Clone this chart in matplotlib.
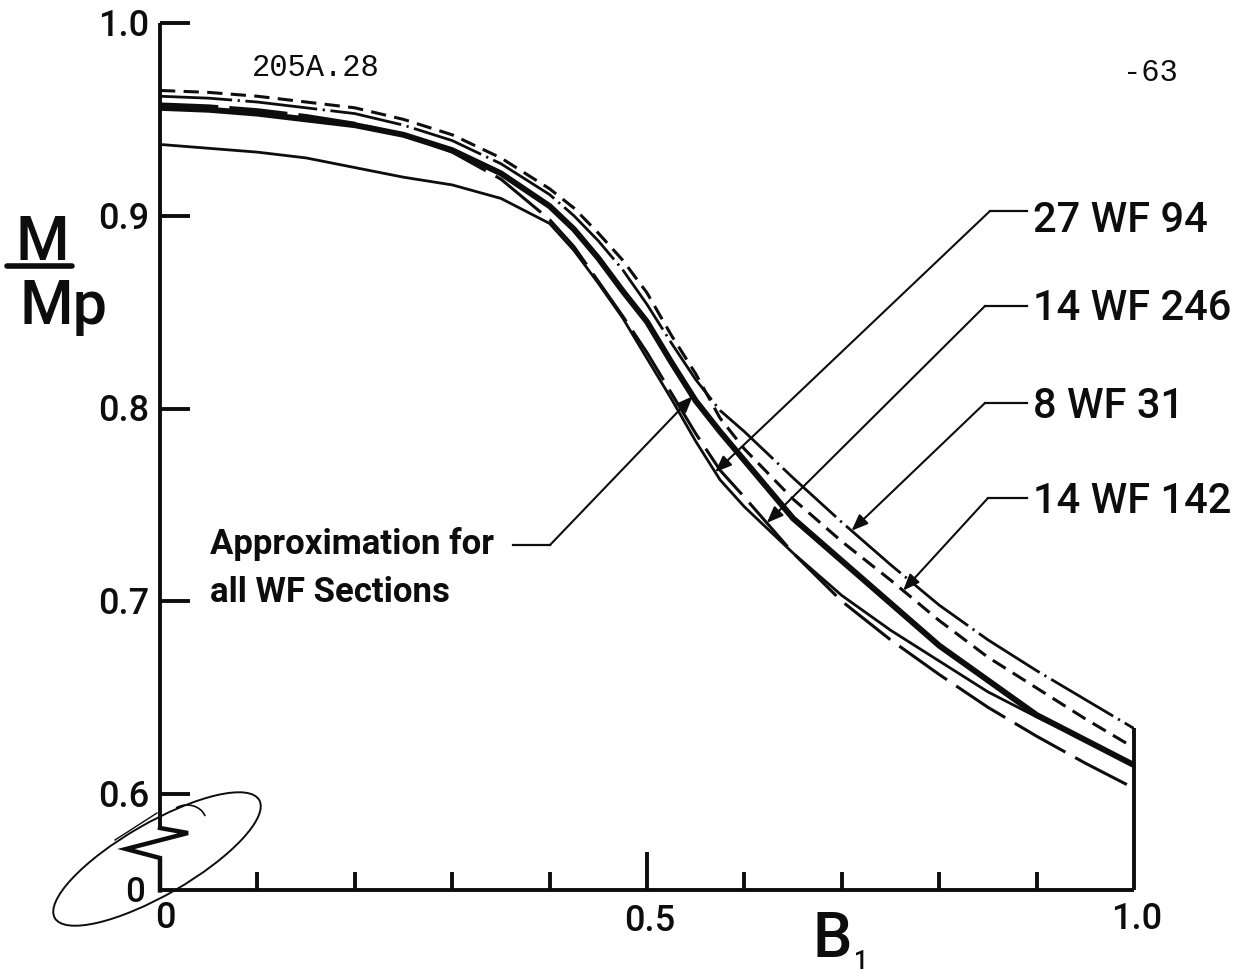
import numpy as np
import matplotlib
matplotlib.use("Agg")
import matplotlib.pyplot as plt
from matplotlib.patches import Ellipse, Arc
from matplotlib.lines import Line2D

plt.rcParams['lines.scale_dashes'] = False

# ---------------- data ----------------
b1 = [0.0, 0.05, 0.1, 0.15, 0.2, 0.25, 0.3, 0.35, 0.4, 0.425, 0.45, 0.475,
      0.5, 0.525, 0.55, 0.575, 0.6, 0.65, 0.7, 0.75, 0.8, 0.85, 0.9, 0.95, 1.0]

# approximation for all WF sections (heavy line)
m_approx = [0.956, 0.955, 0.953, 0.950, 0.947, 0.942, 0.934, 0.922, 0.905, 0.893,
            0.878, 0.861, 0.845, 0.824, 0.804, 0.788, 0.773, 0.743, 0.721, 0.699,
            0.677, 0.659, 0.641, 0.628, 0.615]
m_27wf94 = [0.937, 0.935, 0.933, 0.930, 0.925, 0.920, 0.916, 0.909, 0.896, 0.882,
            0.865, 0.847, 0.826, 0.805, 0.783, 0.763, 0.749, 0.725, 0.703, 0.685,
            0.669, 0.653, 0.640, 0.628, 0.615]
m_14wf246 = [0.958, 0.957, 0.955, 0.952, 0.948, 0.942, 0.933, 0.919, 0.898, 0.884,
             0.866, 0.848, 0.829, 0.808, 0.787, 0.768, 0.754, 0.725, 0.700, 0.680,
             0.662, 0.645, 0.630, 0.616, 0.603]
m_8wf31 = [0.962, 0.961, 0.959, 0.956, 0.953, 0.947, 0.939, 0.927, 0.911, 0.900,
           0.887, 0.872, 0.854, 0.834, 0.815, 0.799, 0.788, 0.764, 0.741, 0.719,
           0.698, 0.680, 0.664, 0.649, 0.634]
m_14wf142 = [0.965, 0.964, 0.962, 0.959, 0.956, 0.950, 0.942, 0.930, 0.914, 0.904,
             0.891, 0.877, 0.860, 0.838, 0.818, 0.795, 0.779, 0.753, 0.731, 0.711,
             0.690, 0.671, 0.655, 0.639, 0.624]

y_ticks = [0.6, 0.7, 0.8, 0.9, 1.0]
y_tick_labels = ["0.6", "0.7", "0.8", "0.9", "1.0"]
x_ticks = [0.1, 0.2, 0.3, 0.4, 0.5, 0.6, 0.7, 0.8, 0.9]
x_tick_labels = ["0", "0.5", "1.0"]
x_label_vals = [0.0, 0.5, 1.0]

section_names = ["27 WF 94", "14 WF 246", "8 WF 31", "14 WF 142"]
section_curves = [m_27wf94, m_14wf246, m_8wf31, m_14wf142]
approx_text = ["Approximation for", "all WF Sections"]

# ---------------- layout (pixels) ----------------
W, H = 1244, 973
X0, X1 = 160, 1134          # B1 = 0 and 1.0
Y_TOP, Y_BOT = 23, 890.4    # M/Mp = 1.0 and axis base
YMIN, YMAX = 0.55, 1.0
ink = "#0d0d0d"
LBL = "Roboto"

fig = plt.figure(figsize=(W / 100, H / 100), dpi=100)
fig.patch.set_facecolor("white")
ax = fig.add_axes([X0 / W, 1 - Y_BOT / H, (X1 - X0) / W, (Y_BOT - Y_TOP) / H])
ax.set_xlim(0, 1)
ax.set_ylim(YMIN, YMAX)
ax.axis("off")

ppu = (Y_BOT - Y_TOP) / (YMAX - YMIN)


def to_data(px, py):
    return (px - X0) / (X1 - X0), YMAX - (py - Y_TOP) / ppu


def cap_text(px, py_center, s, size, ha="center", family=LBL, weight="medium", capr=0.711):
    """Place text so that its capital letters are centred on py_center."""
    cap_px = capr * size * 100 / 72
    fig.text(px / W, 1 - (py_center + cap_px / 2) / H, s, ha=ha, va="baseline",
             fontsize=size, family=family, weight=weight, color=ink)


# ---------------- curves ----------------
ax.plot(b1, m_27wf94, color=ink, lw=2.0, zorder=3)
ax.plot(b1, m_14wf246, color=ink, lw=2.2, dashes=(42, 8), zorder=3)
ax.plot(b1, m_8wf31, color=ink, lw=2.0, dashes=(52, 4, 1.6, 4), zorder=3)
ax.plot(b1, m_14wf142, color=ink, lw=2.2, dashes=(11, 6), zorder=3)
ax.plot(b1, m_approx, color=ink, lw=4.3, solid_joinstyle="round", zorder=4)

# ---------------- frame ----------------
akw = dict(color=ink, lw=2.8, clip_on=False, solid_capstyle="butt", zorder=5)
brk = [to_data(*p) for p in [(160, 828), (188, 833), (126, 849), (160, 858), (160, Y_BOT)]]
ax.plot([0, 0], [YMAX, brk[0][1]], **akw)
ax.plot([p[0] for p in brk], [p[1] for p in brk], color=ink, lw=3.2, clip_on=False,
        solid_joinstyle="miter", zorder=5)
ax.plot([0, 1], [YMIN, YMIN], **akw)
ax.plot([1, 1], [YMIN, m_8wf31[-1]], **akw)

for yv in y_ticks:
    ax.plot([0, 30 / (X1 - X0)], [yv, yv], **akw)
for xv in x_ticks:
    h = (38 if abs(xv - 0.5) < 1e-9 else 18) / ppu
    ax.plot([xv, xv], [YMIN, YMIN + h], **akw)

# tick labels
for yv, s in zip(y_ticks, y_tick_labels):
    cap_text(149, Y_TOP + (YMAX - yv) * ppu, s, 26, ha="right")
cap_text(135, 890, "0", 25)
for xv, s, py in zip(x_label_vals, x_tick_labels, [915, 918, 916]):
    px = X0 + xv * (X1 - X0) + (5 if xv == 0 else 3)
    cap_text(px, py, s, 26)

# axis titles
cap_text(832, 935, "B", 45)
cap_text(861, 960, "1", 18)
cap_text(42, 238, "M", 44)
fig.add_artist(Line2D([7 / W, 72 / W], [1 - 266 / H, 1 - 266 / H], color=ink, lw=4.0,
                      solid_capstyle="round"))
cap_text(20, 302, "Mp", 44, ha="left")

# typed page marks
cap_text(316, 66, "205A.28", 22, family="Liberation Mono", weight="normal", capr=0.66)
cap_text(1150, 71, "-63", 22, family="Liberation Mono", weight="normal", capr=0.66)

# ---------------- leaders ----------------
arrow = dict(arrowstyle="-|>,head_length=0.55,head_width=0.22", color=ink, lw=1.5,
             shrinkA=0, shrinkB=0, mutation_scale=18)
elbows = [(990, 211), (985, 306), (985, 403), (988, 498)]
tips_b = [0.570, 0.623, 0.710, 0.763]
text_y = [217, 305, 403, 498]
for name, curve, (ex, ey), tb, ty in zip(section_names, section_curves, elbows, tips_b, text_y):
    e = to_data(ex, ey)
    tip = (tb, float(np.interp(tb, b1, curve)))
    ax.annotate("", xy=tip, xytext=e, arrowprops=arrow, annotation_clip=False, zorder=6)
    ax.plot([e[0], to_data(1027, ey)[0]], [e[1], e[1]], color=ink, lw=1.6,
            clip_on=False, zorder=6)
    cap_text(1033, ty, name, 30, ha="left")

# approximation leader
e = to_data(550, 545)
tb = 0.547
tip = (tb, float(np.interp(tb, b1, m_approx)))
ax.annotate("", xy=tip, xytext=e, arrowprops=arrow, annotation_clip=False, zorder=6)
ax.plot([to_data(513, 545)[0], e[0]], [e[1], e[1]], color=ink, lw=1.6, clip_on=False, zorder=6)
cap_text(210, 542, approx_text[0], 25, ha="left", weight="bold")
cap_text(210, 590, approx_text[1], 25, ha="left", weight="bold")

# ---------------- break mark ring ----------------
tr = fig.dpi_scale_trans
fig.add_artist(Ellipse((157 / 100, (H - 859) / 100), 2.36, 0.72, angle=30,
                       fill=False, ec=ink, lw=1.4, transform=tr))
fig.add_artist(Arc((187 / 100, (H - 821) / 100), 0.38, 0.32, theta1=15, theta2=130,
                   ec=ink, lw=1.2, transform=tr))
fig.add_artist(Line2D([115 / 100, 157 / 100], [(H - 840) / 100, (H - 813) / 100],
                      color=ink, lw=1.0, transform=tr))

fig.savefig("out.png", dpi=100, facecolor="white")
